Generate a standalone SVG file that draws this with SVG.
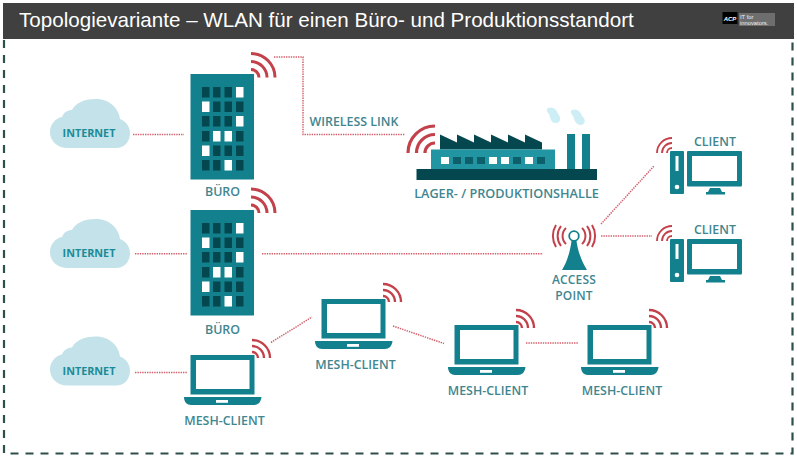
<svg xmlns="http://www.w3.org/2000/svg" width="797" height="460" viewBox="0 0 797 460">
<style>
text{font-family:"Open Sans","Liberation Sans",sans-serif;font-weight:600}
.lbl{font-size:12.400px;fill:#41868f;text-anchor:middle}
.net{font-size:10.800px;fill:#1d8b97;text-anchor:middle;font-weight:700}
.link{fill:none;stroke:#d2606c;stroke-width:1.500;stroke-dasharray:1.400 1}
.arc{fill:none;stroke:#c2414a;stroke-linecap:butt}
.t{fill:#12808d}.d{fill:#04474f}.w{fill:#fff}
</style>
<defs>
<g id="cloud"><path fill="#c3e2e9" d="M68 148C56 148 50 140 50 132C50 124 56 118 62 117C64 112 68 110 72 110C76 102 86 99 96 99C110 99 119 109 120 119C126 121 130 127 130 133C130 142 124 148 116 148Z"/></g>
<g id="bld">
<rect class="t" x="190.500" y="74" width="63.500" height="105.500"/>
<g class="d">
<rect x="202" y="87" width="7.500" height="10.500"/><rect x="213" y="87" width="7.500" height="10.500"/><rect x="224.500" y="87" width="7.500" height="10.500"/>
<rect x="213" y="101.500" width="7.500" height="10.500"/><rect x="224.500" y="101.500" width="7.500" height="10.500"/><rect x="236" y="101.500" width="7.500" height="10.500"/>
<rect x="202" y="116" width="7.500" height="10.500"/><rect x="213" y="116" width="7.500" height="10.500"/><rect x="224.500" y="116" width="7.500" height="10.500"/>
<rect x="202" y="131" width="7.500" height="10.500"/><rect x="236" y="131" width="7.500" height="10.500"/>
<rect x="213" y="145.500" width="7.500" height="10.500"/><rect x="224.500" y="145.500" width="7.500" height="10.500"/><rect x="236" y="145.500" width="7.500" height="10.500"/>
<rect x="202" y="160" width="7.500" height="10.500"/><rect x="213" y="160" width="7.500" height="10.500"/><rect x="236" y="160" width="7.500" height="10.500"/>
</g>
<g class="w">
<rect x="236" y="87" width="7.500" height="10.500"/><rect x="202" y="101.500" width="7.500" height="10.500"/><rect x="236" y="116" width="7.500" height="10.500"/>
<rect x="213" y="131" width="7.500" height="10.500"/><rect x="224.500" y="131" width="7.500" height="10.500"/><rect x="202" y="145.500" width="7.500" height="10.500"/><rect x="224.500" y="160" width="7.500" height="10.500"/>
</g>
</g>
<g id="wifi-b" class="arc" stroke-width="3">
<path d="M251 69.500A8 8 0 0 1 259 77.500M251 61.500A16 16 0 0 1 267 77.500M251 53.500A24 24 0 0 1 275 77.500"/>
</g>
<g id="wifi-l" class="arc" stroke-width="2.400">
<path d="M252 352A6 6 0 0 1 258 358M252 346A12 12 0 0 1 264 358M252 340A18 18 0 0 1 270 358"/>
</g>
<g id="wifi-c" class="arc" stroke-width="1.800">
<path d="M672 148A5 5 0 0 0 667 153M672 143A10 10 0 0 0 662 153M672 138A15 15 0 0 0 657 153"/>
</g>
<g id="laptop">
<rect class="t" x="190.500" y="355" width="64" height="39.500"/>
<rect class="w" x="196" y="360" width="53.500" height="29"/>
<path class="t" d="M184 397H261.500C261 402 258 405 254 405H191C187 405 184 402 184 397Z"/>
<rect class="w" x="216" y="400" width="12" height="2.800"/>
</g>
<g id="pc">
<rect class="t" x="670" y="151" width="14" height="43" rx="1"/>
<rect class="w" x="675.500" y="156" width="3" height="15"/>
<circle class="w" cx="677" cy="187" r="2.300"/>
<rect class="t" x="687" y="151" width="55" height="35.500" rx="1"/>
<rect class="w" x="692" y="156" width="45" height="25"/>
<path class="t" d="M710 188H720L722 192H725V194.500H706V192H708Z"/>
</g>
</defs>

<rect x="0" y="0" width="797" height="460" fill="#fff"/>

<g id="frame">
<rect x="3" y="3" width="791" height="36" fill="#404040"/>
<path d="M4 40V453.500H792.500V40" fill="none" stroke="#2f4f4d" stroke-width="2.200" stroke-dasharray="8 7"/>
<text x="19" y="27" font-size="20.600" fill="#fff" style="font-family:'Liberation Sans',sans-serif;font-weight:400">Topologievariante – WLAN für einen Büro- und Produktionsstandort</text>
</g>
<g id="logo">
<rect x="722.500" y="12" width="15" height="12" fill="#000"/>
<text x="730" y="21" font-size="6" fill="#fff" text-anchor="middle" font-style="italic" style="font-family:'Liberation Sans',sans-serif;font-weight:700">ACP</text>
<rect x="739" y="13" width="36" height="13" fill="#6e6e6e"/>
<text x="740" y="25" font-size="5.800" fill="#f0f0f0" style="font-family:'Liberation Sans',sans-serif;font-weight:400"><tspan x="740" y="19">IT for</tspan><tspan x="740" y="25">innovators.</tspan></text>
</g>

<g id="connectors">
<path class="link" d="M274 57H303V134.500H405"/>
<path class="link" d="M133 134.500H184"/>
<path class="link" d="M135 253.700H187"/>
<path class="link" d="M135 372.500H187"/>
<path class="link" d="M262 253.700H543"/>
<path class="link" d="M601 224L654 166"/>
<path class="link" d="M601 236H652"/>
<path class="link" d="M271 342.500L312 317"/>
<path class="link" d="M393 326L444 343.500"/>
<path class="link" d="M526 343H578"/>
</g>

<g id="internet-1"><use href="#cloud"/><text class="net" x="89" y="137">INTERNET</text></g>
<g id="internet-2"><use href="#cloud" y="120"/><text class="net" x="89" y="256.500">INTERNET</text></g>
<g id="internet-3"><use href="#cloud" y="237.500"/><text class="net" x="89" y="374.500">INTERNET</text></g>

<g id="buero-1"><use href="#bld"/><use href="#wifi-b"/><text class="lbl" x="222.500" y="196">BÜRO</text></g>
<g id="buero-2"><use href="#bld" y="136"/><use href="#wifi-b" y="135.500"/><text class="lbl" x="222.500" y="334">BÜRO</text></g>

<g id="wireless-link"><text class="lbl" x="354" y="126">WIRELESS LINK</text></g>

<g id="halle">
<g fill="#cdeef5">
<path d="M548 108C553 106 557 110 558 114C562 118 560 124 555 123C550 122 550 116 549 114C547 112 546 109 548 108Z"/>
<path d="M572 110C577 108 581 112 582 116C586 119 586 125 580 125C575 124 574 118 573 116C571 114 570 111 572 110Z"/>
</g>
<path class="d" d="M440 149.500V134.500L457 142.500V134.500L474 142.500V134.500L491 142.500V134.500L508 142.500V134.500L525 142.500V134.500L542 142.500V149.500Z"/>
<rect x="431" y="149.500" width="124" height="19.500" fill="#2195a2"/>
<rect class="t" x="567" y="134" width="8" height="35"/>
<rect class="t" x="582" y="134" width="8" height="35"/>
<rect class="d" x="416.500" y="169" width="180.500" height="11"/>
<g class="w"><rect x="441" y="157" width="8" height="7"/><rect x="489" y="157" width="8" height="7"/><rect x="501" y="157" width="8" height="7"/><rect x="525" y="157" width="8" height="7"/></g>
<g fill="#0c5f6b"><rect x="453" y="157" width="8" height="7"/><rect x="465" y="157" width="8" height="7"/><rect x="477" y="157" width="8" height="7"/><rect x="513" y="157" width="8" height="7"/><rect x="537" y="157" width="8" height="7"/></g>
<path class="arc" stroke-width="3.200" d="M435 143A10 10 0 0 0 425 153M435 134.500A18.500 18.500 0 0 0 416.500 153M435 126A27 27 0 0 0 408 153"/>
<text class="lbl" x="506.500" y="198" style="font-size:12.700px">LAGER- / PRODUKTIONSHALLE</text>
</g>

<g id="client-1"><use href="#pc"/><use href="#wifi-c"/><text class="lbl" x="715" y="146">CLIENT</text></g>
<g id="client-2"><use href="#pc" y="88"/><use href="#wifi-c" y="88"/><text class="lbl" x="715" y="234">CLIENT</text></g>

<g id="access-point">
<path class="t" d="M571.500 241H576.500C578 252 582 262 587 270H562C567 262 570 252 571.500 241Z"/>
<circle cx="574" cy="236" r="4.800" fill="#fff" stroke="#12808d" stroke-width="1.800"/>
<path class="arc" stroke-width="2" d="M566 228A11 11 0 0 0 566 244M561 226A16.500 16.500 0 0 0 561 246M556 225A21 21 0 0 0 556 247M582 228A11 11 0 0 1 582 244M587 226A16.500 16.500 0 0 1 587 246M592 225A21 21 0 0 1 592 247"/>
<text class="lbl" x="574" y="283.500" style="font-size:12px;letter-spacing:.2px">ACCESS</text>
<text class="lbl" x="574" y="300" style="font-size:12px;letter-spacing:.2px">POINT</text>
</g>

<g id="mesh-1"><use href="#laptop"/><use href="#wifi-l"/><text class="lbl" x="224.500" y="425">MESH-CLIENT</text></g>
<g id="mesh-2"><use href="#laptop" x="131" y="-56"/><use href="#wifi-l" x="131" y="-56"/><text class="lbl" x="355.500" y="369">MESH-CLIENT</text></g>
<g id="mesh-3"><use href="#laptop" x="264" y="-30"/><use href="#wifi-l" x="264" y="-30"/><text class="lbl" x="488" y="395">MESH-CLIENT</text></g>
<g id="mesh-4"><use href="#laptop" x="397" y="-30"/><use href="#wifi-l" x="397" y="-30"/><text class="lbl" x="622" y="395">MESH-CLIENT</text></g>
</svg>
